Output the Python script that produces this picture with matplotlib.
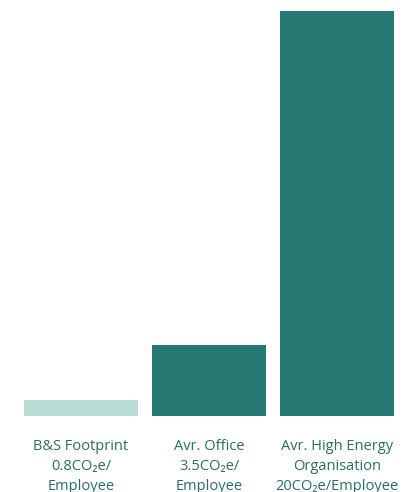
import matplotlib
matplotlib.use("Agg")
import matplotlib.pyplot as plt

categories = ["B&S Footprint\n0.8CO₂e/\nEmployee",
              "Avr. Office\n3.5CO₂e/\nEmployee",
              "Avr. High Energy\nOrganisation\n20CO₂e/Employee"]
values = [0.8, 3.5, 20]
colors = ["#b8ddd4", "#267a73", "#267a73"]

W, H = 406, 492
fig = plt.figure(figsize=(W / 100, H / 100), dpi=100)
ax = fig.add_axes([17 / W, 76 / H, (401 - 17) / W, (416 - 11) / H])
x = range(len(values))
ax.bar(x, values, width=0.89, color=colors)
ax.set_xlim(-0.5, 2.5)
ax.set_ylim(0, 20)
ax.axis("off")

for i, lab in enumerate(categories):
    ax.annotate(lab, xy=(i, 0), xycoords="data", xytext=(0, -16.5),
                textcoords="offset points", ha="center", va="top",
                fontsize=10.5, color="#2a6e66", linespacing=1.45,
                family=["Open Sans", "DejaVu Sans"])

fig.savefig("out.png", dpi=100)
